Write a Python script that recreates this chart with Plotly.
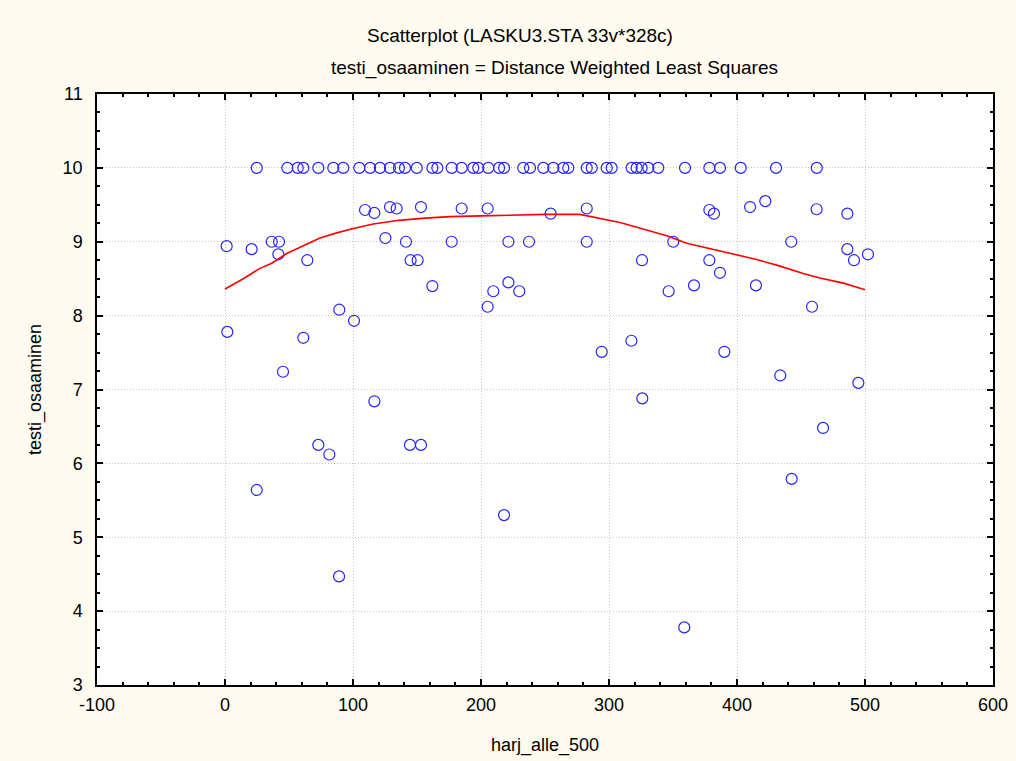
import plotly.graph_objects as go

# Scatter data: harj_alle_500 (x) vs testi_osaaminen (y)
top_x = [24.8, 48.7, 56.8, 61.2, 72.9, 84.6, 92.4, 104.9, 113.3, 121.1, 128.9, 135.9,
         140.6, 149.8, 162.0, 165.9, 177.1, 184.9, 194.0, 197.9, 205.7, 214.1, 218.0,
         233.0, 238.3, 248.7, 256.5, 264.3, 268.2, 282.6, 286.5, 298.2, 302.1, 317.7,
         321.6, 325.5, 330.7, 338.5, 359.4, 378.4, 386.7, 402.9, 430.5, 462.3]
top_y = [10.0] * len(top_x)

other_x = [1.3, 20.8, 36.5, 42.2, 41.7, 64.3, 109.4, 116.7, 128.9, 134.1, 125.3, 89.3,
           100.8, 1.8, 61.2, 153.1, 184.9, 205.2, 254.4, 282.6, 141.4, 177.1, 221.4,
           237.5, 282.6, 145.0, 150.5, 162.0, 209.6, 221.4, 229.9, 205.2, 378.4, 382.0,
           410.2, 422.1, 350.2, 442.4, 325.8, 378.4, 386.7, 346.6, 366.4, 414.8, 317.5,
           462.2, 486.2, 486.2, 491.4, 502.3, 458.6, 45.3, 116.7, 72.9, 81.5, 144.5,
           153.1, 24.8, 89.1, 294.3, 390.1, 433.8, 494.8, 326.0, 467.2, 442.7, 358.8,
           218.0]
other_y = [8.94, 8.90, 9.0, 9.0, 8.83, 8.75, 9.43, 9.39, 9.47, 9.45, 9.05, 8.08,
           7.93, 7.78, 7.70, 9.47, 9.45, 9.45, 9.38, 9.45, 9.0, 9.0, 9.0,
           9.0, 9.0, 8.75, 8.75, 8.40, 8.33, 8.45, 8.33, 8.12, 9.43, 9.38,
           9.47, 9.55, 9.0, 9.0, 8.75, 8.75, 8.58, 8.33, 8.41, 8.41, 7.66,
           9.44, 9.38, 8.90, 8.75, 8.83, 8.12, 7.24, 6.84, 6.25, 6.12, 6.25,
           6.25, 5.64, 4.47, 7.51, 7.51, 7.19, 7.09, 6.88, 6.48, 5.79, 3.78,
           5.30]

# Distance Weighted Least Squares fit
curve_x = [0, 14.3, 27.3, 36.5, 48.2, 58.6, 74.2, 87.3, 100.2, 115.9, 135.9, 156.3,
           175.8, 200, 225, 250, 277.3, 285.2, 293, 308.6, 319, 332, 345.1, 360.7,
           378.9, 397.1, 415.4, 433.6, 451.8, 464.8, 483.1, 500]
curve_y = [8.36, 8.50, 8.64, 8.71, 8.84, 8.92, 9.05, 9.12, 9.18, 9.24, 9.29, 9.32,
           9.34, 9.35, 9.36, 9.37, 9.37, 9.34, 9.31, 9.26, 9.21, 9.14, 9.08, 8.98,
           8.91, 8.83, 8.76, 8.67, 8.57, 8.51, 8.44, 8.35]

# Tick labels
x_tickvals = [-100, 0, 100, 200, 300, 400, 500, 600]
x_ticktext = ["-100", "0", "100", "200", "300", "400", "500", "600"]
y_tickvals = [3, 4, 5, 6, 7, 8, 9, 10, 11]
y_ticktext = ["3", "4", "5", "6", "7", "8", "9", "10", "11"]

title_text = "Scatterplot (LASKU3.STA 33v*328c)"
subtitle_text = "testi_osaaminen = Distance Weighted Least Squares"
x_title = "harj_alle_500"
y_title = "testi_osaaminen"

x_all = top_x + other_x
y_all = top_y + other_y

FONT = "Liberation Sans, Arial, sans-serif"

fig = go.Figure()
fig.add_trace(go.Scatter(
    x=x_all, y=y_all, mode="markers",
    marker=dict(symbol="circle-open", size=11, color="#2424ff", line=dict(width=1.2)),
    showlegend=False, hoverinfo="x+y"))
fig.add_trace(go.Scatter(
    x=curve_x, y=curve_y, mode="lines",
    line=dict(color="#ff0000", width=1.6),
    showlegend=False))

axis_common = dict(
    showline=True, linecolor="black", linewidth=1.5, mirror="ticks",
    ticks="inside", ticklen=6, tickwidth=1.5, tickcolor="black",
    showgrid=True, gridcolor="#c4c4c4", griddash="1px,2px", gridwidth=1,
    zeroline=False, tickmode="array",
    tickfont=dict(family=FONT, size=18, color="black"),
)

fig.update_xaxes(range=[-100, 600], tickvals=x_tickvals, ticktext=x_ticktext,
                 ticklabelstandoff=3,
                 minor=dict(dtick=20, tick0=0, ticks="inside", ticklen=3, tickcolor="black", showgrid=False),
                 **axis_common)
fig.update_yaxes(range=[3, 11], tickvals=y_tickvals, ticktext=y_ticktext,
                 ticklabelstandoff=9,
                 minor=dict(dtick=0.25, tick0=0, ticks="inside", ticklen=3, tickcolor="black", showgrid=False),
                 **axis_common)

plot_w = 1016 - 97 - 23
plot_h = 761 - 94 - 76
def px_x(px):
    return (px - 97) / plot_w
def px_y(py):
    return (761 - 76 - py) / plot_h

def ann(text, px, py, angle=0, size=18):
    return dict(text=text, x=px_x(px), y=px_y(py), xref="paper", yref="paper",
                xanchor="center", yanchor="middle", showarrow=False, textangle=angle,
                font=dict(family=FONT, size=size, color="black"))

fig.update_layout(
    width=1016, height=761,
    margin=dict(l=97, r=23, t=94, b=76, pad=0, autoexpand=False),
    paper_bgcolor="#fffbf0", plot_bgcolor="white",
    font=dict(family=FONT, size=18, color="black"),
    annotations=[
        ann(title_text, 520, 35, size=19),
        ann(subtitle_text, 554, 68, size=19),
        ann(x_title, 545, 745),
        ann(y_title, 35, 390, -90),
    ],
)

fig.write_html("out.html", config={"displayModeBar": False},
               post_script="document.body.style.margin='0';document.body.style.padding='0';")
